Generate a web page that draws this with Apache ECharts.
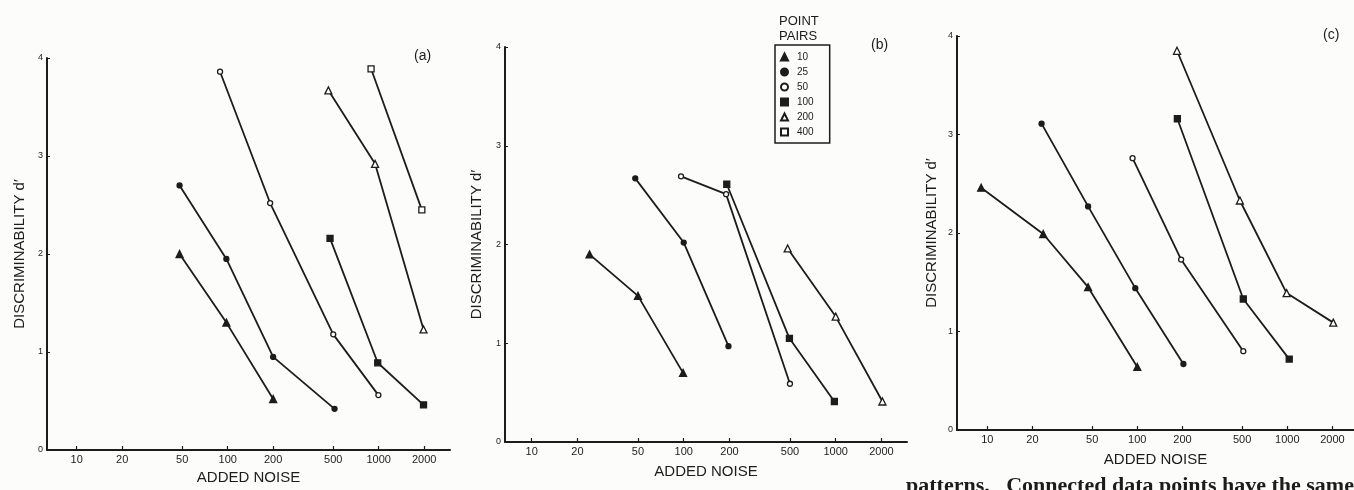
<!DOCTYPE html>
<html>
<head>
<meta charset="utf-8">
<title>Discriminability vs added noise</title>
<script src="https://cdn.jsdelivr.net/npm/echarts@6/dist/echarts.min.js"></script>
<style>
  html, body { margin: 0; padding: 0; background: #fcfcfb; }
  #chart { width: 1354px; height: 490px; }
</style>
</head>
<body>
<div id="chart"></div>
<script>
// point pairs used in the legend, and the noise ticks on every x axis
const pairNames = ['10', '25', '50', '100', '200', '400'];
const noiseTicks = [10, 20, 50, 100, 200, 500, 1000, 2000];

// panel (a): [added noise, d']
const a10 = [[48, 2.0], [98, 1.3], [200, 0.52]];
const a25 = [[48, 2.7], [98, 1.95], [200, 0.95], [510, 0.42]];
const a50 = [[89, 3.86], [191, 2.52], [500, 1.18], [995, 0.56]];
const a100 = [[476, 2.16], [985, 0.89], [1980, 0.46]];
const a200 = [[464, 3.67], [946, 2.92], [1980, 1.23]];
const a400 = [[890, 3.89], [1930, 2.45]];

// panel (b)
const b10 = [[24, 1.9], [50, 1.48], [99, 0.7]];
const b25 = [[48, 2.67], [100, 2.02], [197, 0.97]];
const b50 = [[96, 2.69], [190, 2.51], [500, 0.59]];
const b100 = [[192, 2.61], [496, 1.05], [980, 0.41]];
const b200 = [[483, 1.96], [1000, 1.27], [2030, 0.41]];

// panel (c)
const c10 = [[9.1, 2.46], [23.6, 1.99], [47, 1.45], [100, 0.64]];
const c25 = [[23, 3.11], [47, 2.27], [97, 1.44], [203, 0.67]];
const c50 = [[93, 2.76], [196, 1.73], [509, 0.8]];
const c100 = [[185, 3.16], [509, 1.33], [1030, 0.72]];
const c200 = [[184, 3.85], [483, 2.33], [990, 1.39], [2026, 1.09]];

const ink = '#1c1c1c';

// marker look for each number of point pairs
const markers = {
  '10': { symbol: 'triangle', size: 7, fill: ink },
  '25': { symbol: 'circle', size: 5, fill: ink },
  '50': { symbol: 'circle', size: 5, fill: '#fff' },
  '100': { symbol: 'rect', size: 6, fill: ink },
  '200': { symbol: 'triangle', size: 7, fill: '#fff' },
  '400': { symbol: 'rect', size: 6, fill: '#fff' }
};

const panels = [
  { series: [['10', a10], ['25', a25], ['50', a50], ['100', a100], ['200', a200], ['400', a400]] },
  { series: [['10', b10], ['25', b25], ['50', b50], ['100', b100], ['200', b200]] },
  { series: [['10', c10], ['25', c25], ['50', c50], ['100', c100], ['200', c200]] }
];

const grids = [
  { left: 47, top: 58, width: 403, height: 395 },
  { left: 505, top: 47, width: 402, height: 395 },
  { left: 957, top: 36, width: 397, height: 394 }
];
const xRanges = [[6.36, 2965], [6.67, 2945], [6.28, 2785]];
const xNameGaps = [20, 22, 22];
const yNameGaps = [20, 21, 18];

const axisFont = { fontFamily: 'Liberation Sans', color: ink };

const xAxes = grids.map((g, i) => ({
  type: 'log',
  logBase: 10,
  gridIndex: i,
  min: xRanges[i][0],
  max: xRanges[i][1],
  name: 'ADDED NOISE',
  nameLocation: 'middle',
  nameGap: xNameGaps[i],
  nameTextStyle: { ...axisFont, fontSize: 15 },
  axisLine: { lineStyle: { color: ink, width: 2 } },
  axisTick: { customValues: noiseTicks, inside: true, length: 4, lineStyle: { color: ink, width: 1.2 } },
  axisLabel: { customValues: noiseTicks, ...axisFont, fontSize: 11, margin: 4, formatter: v => String(v) },
  minorTick: { show: false },
  splitLine: { show: false }
}));

const yAxes = grids.map((g, i) => ({
  type: 'value',
  gridIndex: i,
  min: 0,
  max: 4,
  interval: 1,
  name: "DISCRIMINABILITY d\u2032",
  nameLocation: 'middle',
  nameRotate: 90,
  nameGap: yNameGaps[i],
  nameTextStyle: { ...axisFont, fontSize: 15 },
  axisLine: { show: true, lineStyle: { color: ink, width: 2 } },
  axisTick: { show: true, inside: true, length: 3, lineStyle: { color: ink } },
  axisLabel: { ...axisFont, fontSize: 9, margin: 4 },
  splitLine: { show: false }
}));

const series = [];
panels.forEach((p, i) => {
  p.series.forEach(([name, data]) => {
    const m = markers[name];
    series.push({
      type: 'line',
      name: name,
      xAxisIndex: i,
      yAxisIndex: i,
      data: data,
      symbol: m.symbol,
      symbolSize: m.size,
      showSymbol: true,
      itemStyle: { color: m.fill, borderColor: ink, borderWidth: 1.3 },
      lineStyle: { color: ink, width: 1.8 },
      emphasis: { disabled: true }
    });
  });
});

const chart = echarts.init(document.getElementById('chart'));

chart.setOption({
  animation: false,
  backgroundColor: '#fcfcfb',
  grid: grids,
  xAxis: xAxes,
  yAxis: yAxes,
  legend: {
    left: 775,
    top: 45,
    orient: 'vertical',
    data: pairNames.map(n => ({ name: n, icon: markers[n].symbol })),
    itemWidth: 7,
    itemHeight: 7,
    itemGap: 5,
    padding: [7, 16, 6, 5],
    borderColor: ink,
    borderWidth: 1.5,
    selectedMode: false,
    textStyle: { ...axisFont, fontSize: 10, padding: [0, 0, 0, 4] }
  },
  graphic: [
    { type: 'text', left: 779, top: 14, style: { text: 'POINT\nPAIRS', fontFamily: 'Liberation Sans', fontSize: 13, lineHeight: 15, fill: ink, align: 'center' } },
    { type: 'text', left: 414, top: 49, style: { text: '(a)', fontFamily: 'Liberation Sans', fontSize: 14, fill: ink } },
    { type: 'text', left: 871, top: 38, style: { text: '(b)', fontFamily: 'Liberation Sans', fontSize: 14, fill: ink } },
    { type: 'text', left: 1323, top: 28, style: { text: '(c)', fontFamily: 'Liberation Sans', fontSize: 14, fill: ink } },
    { type: 'text', left: 906, top: 475, style: { text: 'patterns.   Connected data points have the same', fontFamily: 'Liberation Serif', fontSize: 22, fontWeight: 'bold', fill: ink } }
  ],
  series: series
});
</script>
</body>
</html>
